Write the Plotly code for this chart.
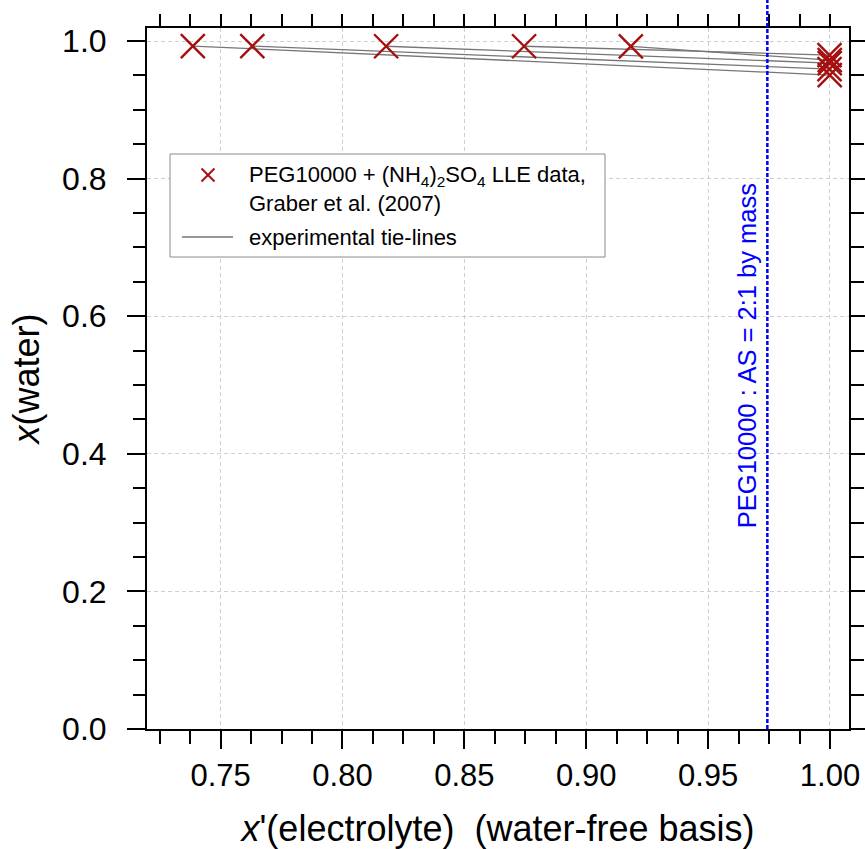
import plotly.graph_objects as go

# Tie-line end points: PEG-rich phase (left) and salt-rich phase (right)
xe_peg_rich = [0.7386, 0.7630, 0.8179, 0.8745, 0.9183]
xw_peg_rich = [0.9927, 0.9927, 0.9925, 0.9925, 0.9922]
xe_salt_rich = [0.9999, 0.9998, 0.9999, 0.9998, 0.9999]
xw_salt_rich = [0.9506, 0.9593, 0.9680, 0.9797, 0.9724]

# Mixing line for PEG10000 : (NH4)2SO4 = 2:1 by mass
x_mix = 0.9743
mix_label = "PEG10000 : AS = 2:1 by mass"

data_label = "PEG10000 + (NH<sub>4</sub>)<sub>2</sub>SO<sub>4</sub> LLE data,<br>Graber et al. (2007)"
tie_label = "experimental tie-lines"

x_range = [0.7198, 1.0078]
y_range = [0.0, 1.019]
x_major = [0.75, 0.80, 0.85, 0.90, 0.95, 1.00]
x_major_text = ["0.75", "0.80", "0.85", "0.90", "0.95", "1.00"]
y_major = [0.0, 0.2, 0.4, 0.6, 0.8, 1.0]
y_major_text = ["0.0", "0.2", "0.4", "0.6", "0.8", "1.0"]

FONT = "Liberation Sans, Arial, sans-serif"
RED = "#a50f0f"
GREY = "#767676"
BLUE = "#0000ff"

# plot area in pixels
W, H = 865, 849
ML, MR, MT, MB = 147, 16, 28, 120
PW, PH = W - ML - MR, H - MT - MB


def px(x):
    return (x - ML) / PW


def py(y):
    return (H - MB - y) / PH


# build tie-line segments separated by gaps
tx, ty = [], []
for x0, y0, x1, y1 in zip(xe_peg_rich, xw_peg_rich, xe_salt_rich, xw_salt_rich):
    tx += [x0, x1, None]
    ty += [y0, y1, None]

fig = go.Figure()

fig.add_trace(go.Scatter(
    x=tx, y=ty, mode="lines", name=tie_label, showlegend=False,
    line=dict(color=GREY, width=1.3),
))
fig.add_trace(go.Scatter(
    x=xe_peg_rich + xe_salt_rich,
    y=xw_peg_rich + xw_salt_rich,
    mode="markers", name="LLE data", showlegend=False,
    marker=dict(symbol="x-thin", size=24, line=dict(width=2.4, color=RED), color=RED),
))
# invisible trace carrying the top and right axes
fig.add_trace(go.Scatter(x=[None], y=[None], xaxis="x2", yaxis="y2", showlegend=False))

# dotted mixing line, running up past the frame
fig.add_shape(type="line", xref="x", yref="paper", x0=x_mix, x1=x_mix, y0=0, y1=py(0),
              line=dict(color=BLUE, width=2.5, dash="4px,2px"), layer="above")

fig.add_annotation(
    x=x_mix, y=0.5424, xref="x", yref="y", text=mix_label, textangle=-90,
    showarrow=False, xshift=-20, font=dict(family=FONT, size=25.5, color=BLUE),
)

# legend box
fig.add_shape(type="rect", xref="paper", yref="paper",
              x0=px(170), x1=px(605), y0=py(257), y1=py(154),
              line=dict(color="#8a8a8a", width=1), fillcolor="white", layer="above")
# legend glyph: cross
cx, cy, hs = 208, 175, 6.5
for dx in (-hs, hs):
    fig.add_shape(type="line", xref="paper", yref="paper",
                  x0=px(cx - hs), y0=py(cy - dx), x1=px(cx + hs), y1=py(cy + dx),
                  line=dict(color=RED, width=2), layer="above")
# legend glyph: line
fig.add_shape(type="line", xref="paper", yref="paper",
              x0=px(182), x1=px(233), y0=py(237), y1=py(237),
              line=dict(color=GREY, width=1.3), layer="above")
fig.add_annotation(x=px(247), y=py(189), xref="paper", yref="paper", text=data_label,
                   showarrow=False, xanchor="left", yanchor="middle", align="left",
                   font=dict(family=FONT, size=22, color="black"))
fig.add_annotation(x=px(247), y=py(237), xref="paper", yref="paper", text=tie_label,
                   showarrow=False, xanchor="left", yanchor="middle", align="left",
                   font=dict(family=FONT, size=22, color="black"))

grid = dict(showgrid=True, gridcolor="#cfcfcf", griddash="4px,3px", gridwidth=1)

fig.update_layout(
    width=W, height=H,
    margin=dict(l=ML, r=MR, t=MT, b=MB),
    paper_bgcolor="white", plot_bgcolor="white",
    font=dict(family=FONT, size=32, color="black"),
    showlegend=False,
    xaxis=dict(
        range=x_range, tickmode="array", tickvals=x_major, ticktext=x_major_text,
        ticks="outside", ticklen=18, tickwidth=2, tickcolor="black",
        showline=True, linewidth=2, linecolor="black", zeroline=False,
        tickfont=dict(size=31), ticklabelstandoff=0, automargin=False,
        minor=dict(dtick=0.0125, tick0=0.75, ticks="outside", ticklen=13, tickwidth=2,
                   tickcolor="black", showgrid=False),
        title=dict(text="<i>x</i>'(electrolyte)  (water-free basis)",
                   font=dict(size=36), standoff=28),
        **grid,
    ),
    yaxis=dict(
        range=y_range, tickmode="array", tickvals=y_major, ticktext=y_major_text,
        ticks="outside", ticklen=18, tickwidth=2, tickcolor="black",
        showline=True, linewidth=2, linecolor="black", zeroline=False,
        ticklabelstandoff=14, automargin=False,
        minor=dict(dtick=0.05, tick0=0, ticks="outside", ticklen=12, tickwidth=2,
                   tickcolor="black", showgrid=False),
        title=dict(text="<i>x</i>(water)", font=dict(size=36), standoff=12),
        **grid,
    ),
    xaxis2=dict(
        range=x_range, overlaying="x", side="top", anchor="y",
        tickmode="linear", tick0=0.725, dtick=0.0125, showticklabels=False,
        ticks="outside", ticklen=12, tickwidth=2, tickcolor="black", automargin=False,
        showline=True, linewidth=2, linecolor="black", showgrid=False, zeroline=False,
    ),
    yaxis2=dict(
        range=y_range, overlaying="y", side="right", anchor="x",
        tickmode="array", tickvals=y_major, showticklabels=False,
        ticks="outside", ticklen=18, tickwidth=2, tickcolor="black", automargin=False,
        minor=dict(dtick=0.05, tick0=0, ticks="outside", ticklen=13, tickwidth=2,
                   tickcolor="black", showgrid=False),
        showline=True, linewidth=2, linecolor="black", showgrid=False, zeroline=False,
    ),
)

fig.write_html("out.html")
